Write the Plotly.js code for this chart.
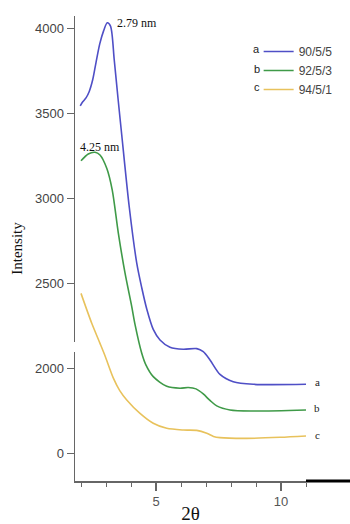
<!DOCTYPE html>
<html>
<head>
<meta charset="utf-8">
<script src="https://cdn.plot.ly/plotly-3.0.1.min.js"></script>
<style>html,body{margin:0;padding:0;background:#fff;}#chart{width:350px;height:524px;}</style>
</head>
<body>
<div id="chart"></div>
<script>
// Series a (90/5/5)
const xA = [1.97, 2.07, 2.20, 2.33, 2.47, 2.60, 2.75, 2.90, 3.05, 3.18, 3.33, 3.48, 3.63, 3.93, 4.23, 4.43, 4.63, 4.89, 5.16, 5.56, 6.09, 6.63, 6.89, 7.16, 7.56, 8.09, 8.89, 11.0];
const yA = [3545, 3569, 3592, 3630, 3700, 3800, 3910, 3985, 4034, 4015, 3815, 3590, 3374, 2950, 2620, 2475, 2350, 2230, 2168, 2125, 2113, 2117, 2099, 2050, 1965, 1922, 1907, 1907];
// Series b (92/5/3)
const xB = [2.00, 2.29, 2.56, 2.76, 3.03, 3.25, 3.49, 3.76, 4.03, 4.16, 4.43, 4.60, 4.89, 5.43, 5.96, 6.29, 6.60, 6.89, 7.16, 7.43, 7.96, 8.88, 11.0];
const yB = [3222, 3262, 3272, 3256, 3178, 3050, 2800, 2562, 2364, 2260, 2090, 2020, 1952, 1895, 1884, 1888, 1880, 1850, 1812, 1780, 1756, 1750, 1756];
// Series c (94/5/1)
const xC = [2.00, 2.43, 2.76, 2.96, 3.29, 3.55, 3.83, 4.36, 4.89, 5.43, 6.09, 6.63, 7.03, 7.30, 7.56, 8.63, 9.96, 11.0];
const yC = [2442, 2266, 2148, 2075, 1945, 1870, 1815, 1736, 1678, 1648, 1638, 1636, 1619, 1600, 1593, 1589, 1595, 1603];

const seriesNames = ["90/5/5", "92/5/3", "94/5/1"];
const seriesTags = ["a", "b", "c"];
const colors = ["#4f4fc6", "#3f9a48", "#e8c25c"];
const yTickVals = [1500, 2000, 2500, 3000, 3500, 4000];
const yTickText = ["0", "2000", "2500", "3000", "3500", "4000"];
const xTickVals = [5, 10];
const peakLabels = [{x: 3.36, y: 4030, text: "2.79 nm"}, {x: 1.88, y: 3305, text: "4.25 nm"}];
const endLabelY = [1920, 1767, 1609];

const xs = [xA, xB, xC], ys = [yA, yB, yC];
const traces = xs.map((x, i) => ({
  x: x, y: ys[i], type: "scatter", mode: "lines", name: seriesNames[i],
  line: {color: colors[i], width: 1.6, shape: "spline", smoothing: 0.8}
}));

const annotations = [];
peakLabels.forEach(p => annotations.push({
  x: p.x, y: p.y, xref: "x", yref: "y", text: p.text, showarrow: false,
  xanchor: "left", yanchor: "middle",
  font: {family: "Liberation Serif, Times New Roman, serif", size: 12, color: "#111"}
}));
seriesTags.forEach((t, i) => annotations.push({
  x: 1.048, y: endLabelY[i], xref: "paper", yref: "y", text: t, showarrow: false,
  xanchor: "center", yanchor: "middle",
  font: {family: "Liberation Serif, serif", size: 11, color: "#222"}
}));
const legY = [0.929, 0.886, 0.847];
seriesTags.forEach((t, i) => annotations.push({
  x: 0.787, y: legY[i], xref: "paper", yref: "paper", text: t, showarrow: false,
  xanchor: "center", yanchor: "middle",
  font: {family: "Liberation Sans, Arial, sans-serif", size: 11, color: "#222"}
}));

const layout = {
  width: 350, height: 524,
  margin: {l: 75, r: 44, t: 16, b: 43},
  paper_bgcolor: "#fff", plot_bgcolor: "#fff",
  showlegend: true,
  legend: {
    x: 0.795, y: 0.955, xanchor: "left", yanchor: "top",
    bgcolor: "rgba(0,0,0,0)", borderwidth: 0,
    font: {family: "Liberation Sans, Arial, sans-serif", size: 12, color: "#444"},
    tracegroupgap: 0, itemwidth: 30
  },
  xaxis: {
    range: [1.76, 11.0], showgrid: false, zeroline: false,
    showline: true, linecolor: "#666", linewidth: 1.5,
    tickmode: "array", tickvals: xTickVals, ticks: "outside", ticklen: 8, tickcolor: "#666", tickwidth: 1.5,
    minor: {dtick: 1, tick0: 0, ticks: "outside", ticklen: 4, tickcolor: "#666", tickwidth: 1},
    tickfont: {family: "Liberation Sans, Arial, sans-serif", size: 13, color: "#555"},
    title: {text: "2θ", font: {family: "Liberation Serif, Times New Roman, serif", size: 19, color: "#111"}, standoff: 4}
  },
  yaxis: {
    range: [1338, 4074], showgrid: false, zeroline: false,
    showline: true, linecolor: "#666", linewidth: 1.5,
    tickmode: "array", tickvals: yTickVals, ticktext: yTickText,
    ticks: "outside", ticklen: 7, tickcolor: "#666", tickwidth: 1.5,
    tickfont: {family: "Liberation Sans, Arial, sans-serif", size: 13, color: "#444"},
    title: {text: "Intensity", font: {family: "Liberation Serif, Times New Roman, serif", size: 15, color: "#111"}, standoff: 8}
  },
  shapes: [
    {type: "line", xref: "paper", yref: "paper", x0: 1.0, x1: 1.2, y0: 0, y1: 0, line: {color: "#000", width: 3}},
    {type: "rect", xref: "paper", yref: "y", x0: -0.012, x1: 0.008, y0: 2097, y1: 2156, fillcolor: "#fff", line: {width: 0}, layer: "above"}
  ],
  annotations: annotations
};

Plotly.newPlot("chart", traces, layout, {displayModeBar: false, staticPlot: true});
</script>
</body>
</html>
